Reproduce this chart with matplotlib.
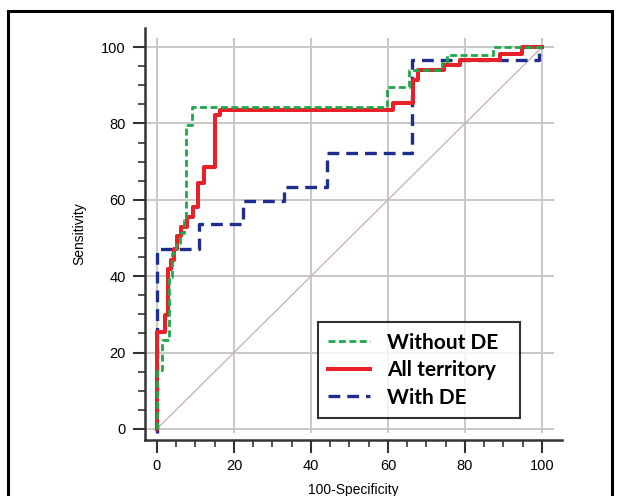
import matplotlib.pyplot as plt
from matplotlib.patches import Rectangle

plt.rcParams['font.family'] = ['Liberation Sans', 'DejaVu Sans']
plt.rcParams['lines.scale_dashes'] = False

# step points of the three ROC curves (100-specificity, sensitivity)
allX = [0, 0, 2.1, 2.8, 3.6, 4.4, 5.1, 6.2, 7.7, 9.4, 10.7, 12.2, 15.1, 16.4,
        61.2, 66.4, 67.8, 74.6, 78.7, 89.0, 94.7, 100]
allY = [0, 25.5, 29.8, 41.8, 44.2, 47.2, 50.5, 53.0, 55.6, 58.2, 64.3, 68.7, 82.2, 83.5,
        85.3, 91.5, 94.1, 95.2, 96.6, 98.1, 100, 100]

withoutX = [0, 0, 1.2, 3.1, 4.0, 4.9, 6.0, 7.0, 7.5, 9.0, 59.7, 65.5, 74.0, 75.4, 87.4, 100]
withoutY = [0, 15.4, 23.3, 39.9, 46.0, 48.6, 51.2, 54.7, 79.6, 84.4, 89.6, 94.0, 95.8, 97.9, 100, 100]

withX = [0, 0, 11.0, 22.3, 33.1, 44.2, 66.3, 99.2, 100]
withY = [-1, 47.1, 53.6, 59.7, 63.4, 72.2, 96.6, 100, 100]

ticks = [0, 20, 40, 60, 80, 100]
minorTicks = list(range(0, 101, 5))

fig = plt.figure(figsize=(6.19, 4.96), dpi=100)
ax = fig.add_axes([145 / 619, 56 / 496, 417 / 619, 412 / 496])
ax.set_xlim(-3.1, 105.2)
ax.set_ylim(-2.9, 105)

# grid drawn by hand so it stops short of the axis ends
ax.hlines(ticks, -3.1, 103, color='#c8c8c8', lw=1.4, zorder=0)
ax.vlines(ticks, -1, 102.5, color='#c8c8c8', lw=1.4, zorder=0)

ax.plot([0, 100], [0, 100], color='#c8aeb6', lw=0.9, zorder=1)

ax.plot(withX, withY, drawstyle='steps-post', color='#1f2e8e', lw=2.4,
        dashes=(8.5, 5), label='With DE', zorder=2)
ax.plot(allX, allY, drawstyle='steps-post', color='#e8202a', lw=2.9,
        label='All territory', zorder=3)
ax.plot(withoutX, withoutY, drawstyle='steps-post', color='#1fa84a', lw=2.0,
        dashes=(5, 2.5), label='Without DE', zorder=4)

for side in ['top', 'right']:
    ax.spines[side].set_visible(False)
for side in ['left', 'bottom']:
    ax.spines[side].set_linewidth(1.8)
    ax.spines[side].set_color('#333333')

ax.set_xticks(ticks)
ax.set_yticks(ticks)
ax.set_xticks(minorTicks, minor=True)
ax.set_yticks(minorTicks, minor=True)
ax.tick_params(which='major', length=9, width=1.5, color='#333333', labelsize=10.5, pad=5)
ax.tick_params(which='minor', length=5, width=1.2, color='#333333')

ax.set_xlabel('100-Specificity', fontsize=10)
ax.set_ylabel('Sensitivity', fontsize=10)
ax.xaxis.set_label_coords(0.5, -0.105)
ax.yaxis.set_label_coords(-0.14, 0.5)

handles, labels = ax.get_legend_handles_labels()
order = [2, 1, 0]
leg = ax.legend([handles[i] for i in order], [labels[i] for i in order],
                loc='upper left', bbox_to_anchor=(0.415, 0.06, 0.484, 0.226),
                mode='expand', borderaxespad=0,
                prop={'family': 'Lato', 'weight': 'bold', 'size': 15},
                frameon=True, fancybox=False, handlelength=2.0,
                labelspacing=0.36, borderpad=0.5, handletextpad=0.8)
leg.get_frame().set_edgecolor('black')
leg.get_frame().set_linewidth(1.5)

fig.patches.append(Rectangle((8 / 619, -0.1), 604 / 619, 1.1 - 11 / 496,
                             transform=fig.transFigure, fill=False,
                             edgecolor='black', lw=2.2))

plt.savefig('out.png')
